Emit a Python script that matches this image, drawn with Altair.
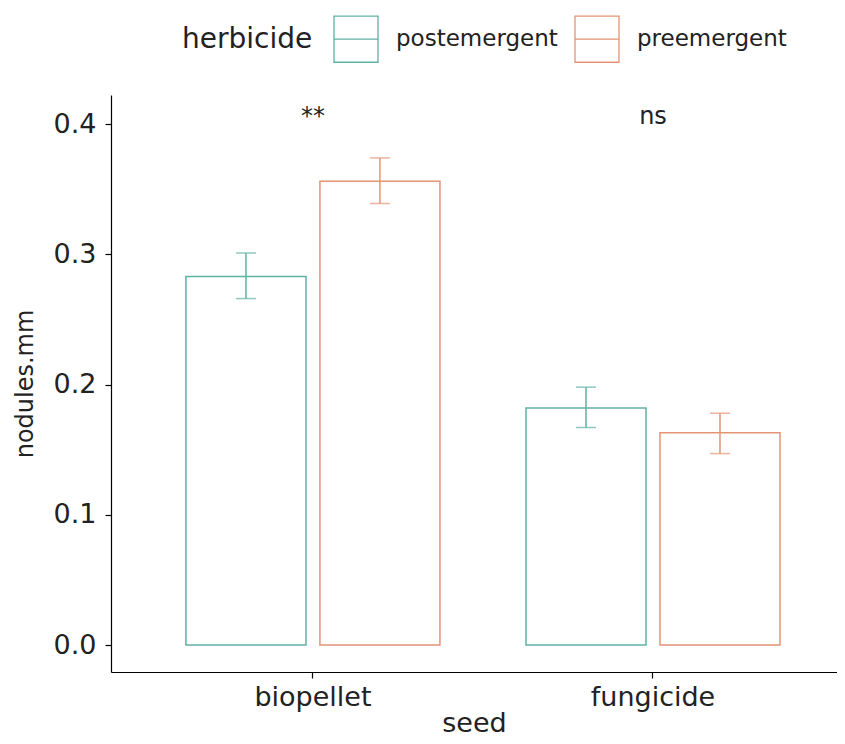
import altair as alt
import pandas as pd

# ---- data ----
seeds = ["biopellet", "biopellet", "fungicide", "fungicide"]
herbicides = ["postemergent", "preemergent", "postemergent", "preemergent"]
means = [0.283, 0.356, 0.182, 0.163]
lowers = [0.266, 0.339, 0.167, 0.147]
uppers = [0.301, 0.374, 0.198, 0.178]

ann_seeds = ["biopellet", "fungicide"]
ann_labels = ["**", "ns"]
ann_y = [0.4, 0.4]

seed_order = ["biopellet", "fungicide"]
herb_order = ["postemergent", "preemergent"]
herb_colors = ["#5FB1A6", "#E39475"]

df = pd.DataFrame({"seed": seeds, "herbicide": herbicides,
                   "mean": means, "lower": lowers, "upper": uppers})
ann = pd.DataFrame({"seed": ann_seeds, "label": ann_labels, "y": ann_y})

FONT = "DejaVu Sans"
TXT = "#222222"

yscale = alt.Scale(domain=[-0.0207, 0.4223], nice=False, zero=False)
xscale = alt.Scale(domain=seed_order, paddingInner=0.253, paddingOuter=0.194, align=0.568)
xoff = alt.XOffset("herbicide:N", scale=alt.Scale(domain=herb_order, paddingInner=0.104, paddingOuter=0))
cscale = alt.Scale(domain=herb_order, range=herb_colors)
color_leg = alt.Color("herbicide:N", scale=cscale,
                      legend=alt.Legend(
                          title="herbicide", orient="none", direction="horizontal",
                          legendX=71, legendY=-79, titleOrient="left",
                          titleFontSize=28, titleFont=FONT, titleColor=TXT, titleFontWeight="normal",
                          titlePadding=20, titleBaseline="middle",
                          labelFontSize=23, labelFont=FONT, labelColor=TXT, labelOffset=17,
                          labelLimit=400, columnPadding=14,
                          symbolType="M-1,-1.05H1V1.05H-1Z M-1,0H1",
                          symbolSize=1936, symbolStrokeWidth=1.3, symbolFillColor="white"))
color_noleg = alt.Color("herbicide:N", scale=cscale, legend=None)

xenc = alt.X("seed:N", scale=xscale, sort=seed_order,
             axis=alt.Axis(title="seed", labelAngle=0, labelPadding=6, titlePadding=0))

bars = alt.Chart(df).mark_bar(filled=False, strokeWidth=1.5).encode(
    x=xenc, xOffset=xoff,
    y=alt.Y("mean:Q", scale=yscale,
            axis=alt.Axis(title="nodules.mm", values=[0, 0.1, 0.2, 0.3, 0.4], format=".1f",
                          labelPadding=9, titlePadding=16)),
    color=color_leg)

rules = alt.Chart(df).mark_rule(strokeWidth=1.5).encode(
    x=xenc, xOffset=xoff, y=alt.Y("lower:Q", scale=yscale), y2="upper:Q", color=color_noleg)

caps_hi = alt.Chart(df).mark_tick(size=20, thickness=1.5).encode(
    x=xenc, xOffset=xoff, y=alt.Y("upper:Q", scale=yscale), color=color_noleg)
caps_lo = alt.Chart(df).mark_tick(size=20, thickness=1.5).encode(
    x=xenc, xOffset=xoff, y=alt.Y("lower:Q", scale=yscale), color=color_noleg)

text = alt.Chart(ann).mark_text(fontSize=24, font=FONT, color=TXT, baseline="alphabetic").encode(
    x=alt.X("seed:N", scale=xscale, sort=seed_order), y=alt.Y("y:Q", scale=yscale), text="label:N")

chart = alt.layer(bars, rules, caps_hi, caps_lo, text).resolve_legend(
    color="independent"
).properties(
    width=726, height=577,
    autosize=alt.AutoSizeParams(type="none"),
    padding={"left": 103, "top": 87, "right": 0, "bottom": 64},
    background="white",
).configure_view(stroke=None).configure_axis(
    domainColor="black", domainWidth=1.2, tickColor="black", tickWidth=1.2, tickSize=6,
    labelFont=FONT, labelFontSize=27, labelColor=TXT,
    titleFont=FONT, titleFontSize=27, titleColor=TXT, titleFontWeight="normal",
    grid=False,
).configure_axisY(titleFontSize=24)

chart.save("out.html", embed_options={"renderer": "svg", "actions": False})
